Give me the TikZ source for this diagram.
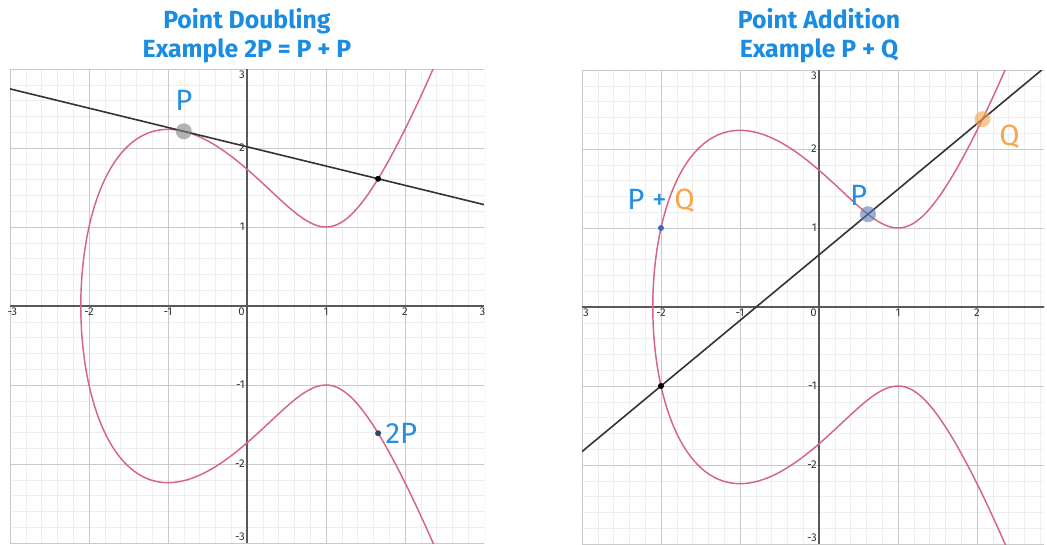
\documentclass[tikz,border=0pt]{standalone}
\usepackage{fontspec}
\setmainfont{Fira Sans}
\usepackage{tikz}
\usepackage{xcolor}
\usetikzlibrary{positioning}

\definecolor{ttlblue}{RGB}{26,140,226}
\definecolor{lblblue}{RGB}{38,142,226}
\definecolor{lblorange}{RGB}{246,164,78}
\definecolor{curvered}{RGB}{214,100,132}
\definecolor{ptsteel}{RGB}{86,124,184}
\definecolor{ptdark}{RGB}{40,72,100}

\tikzset{
  declare function={ecx(\t)=-2.1038+\t*\t;
                    ecy(\t)=\t*sqrt(ecx(\t)*ecx(\t)-2.1038*ecx(\t)+1.426);},
  ttl/.style={align=center, text=ttlblue, inner sep=0pt,
              font=\fontsize{18.6}{22}\selectfont\bfseries},
  ptlbl/.style={inner sep=0pt, text=lblblue, font=\fontsize{22}{24}\selectfont},
  ticklbl/.style={inner sep=1.5pt, text=black!80, font=\fontsize{8.5}{9}\selectfont},
  xlbl/.style={ticklbl, anchor=north},
  ylbl/.style={ticklbl, anchor=east},
  minorgrid/.style={draw=gray!13, line width=0.4pt},
  majorgrid/.style={draw=gray!42, line width=0.6pt},
  axisline/.style={draw=black!65, line width=1pt},
  ecurve/.style={draw=curvered, line width=1.1pt},
  chord/.style={draw=black!80, line width=1.2pt},
  bigdot/.style={circle, inner sep=0pt, minimum size=12pt, fill opacity=0.6},
  smalldot/.style={circle, inner sep=0pt, minimum size=4.5pt}
}

\begin{document}
\begin{tikzpicture}[x=0.75pt,y=0.75pt,yscale=-1,xscale=1]
\path[use as bounding box] (0,0) rectangle (1047,544);

% Text Node
\node[ttl] (ttlDbl) at (247,36) {Point Doubling\\Example 2P = P + P};
% Text Node
\node[ttl] (ttlAdd) at (819,36) {Point Addition\\Example P + Q};

%Left plot: doubling
\begin{scope}[shift={(247,306)},yscale=-1,x=59.25pt,y=59.25pt]
\begin{scope}
\clip (-3,-3) rectangle (3,3);
\draw[minorgrid] (-3,-3) grid[step=0.2] (3,3);
\draw[majorgrid] (-3,-3) grid[step=1] (3,3);
\draw[axisline] (-3,0) -- (3,0);
\draw[axisline] (0,-3) -- (0,3);
%Curve Lines
\draw[ecurve] plot[domain=-2.13:2.13, samples=300, smooth, variable=\t] ({ecx(\t)},{ecy(\t)});
%Straight Lines
\coordinate (tanA) at (-3,2.7485);
\coordinate (tanB) at (3,1.2833);
\draw[chord] (tanA) -- (tanB);
\end{scope}
%Shape: Circle
\node[bigdot, fill=gray] (P) at (-0.8,2.2113) {};
\node[smalldot, fill=black] (R) at (1.6596,1.6105) {};
\node[smalldot, fill=ptdark] (twoP) at (1.6596,-1.6105) {};
% Text Node
\node[ptlbl, above=9pt of P] (Plbl) {P};
% Text Node
\node[ptlbl, right=3pt of twoP] (twoPlbl) {2P};
% Text Node
\node[xlbl] (lxm3) at (-2.97,0) {-3};
\node[xlbl] (lxm2) at (-2,0) {-2};
\node[xlbl] (lxm1) at (-1,0) {-1};
\node[ticklbl, anchor=north east] (lx0) at (0,0) {0};
\node[xlbl] (lx1) at (1,0) {1};
\node[xlbl] (lx2) at (2,0) {2};
\node[xlbl] (lx3) at (2.98,0) {3};
% Text Node
\node[ticklbl, anchor=north east] (ly3) at (0,3) {3};
\node[ylbl] (ly2) at (0,2) {2};
\node[ylbl] (ly1) at (0,1) {1};
\node[ylbl] (lym1) at (0,-1) {-1};
\node[ylbl] (lym2) at (0,-2) {-2};
\node[ticklbl, anchor=south east] (lym3) at (0,-3) {-3};
\end{scope}

%Right plot: addition
\begin{scope}[shift={(819,307)},yscale=-1,x=59.25pt,y=59.25pt]
\begin{scope}
\clip (-3,-3) rectangle (2.85,3);
\draw[minorgrid] (-3,-3) grid[step=0.2] (3,3);
\draw[majorgrid] (-3,-3) grid[step=1] (3,3);
\draw[axisline] (-3,0) -- (3,0);
\draw[axisline] (0,-3) -- (0,3);
%Curve Lines
\draw[ecurve] plot[domain=-2.13:2.13, samples=300, smooth, variable=\t] ({ecx(\t)},{ecy(\t)});
%Straight Lines
\coordinate (secA) at (-3,-1.83);
\coordinate (secB) at (2.819,3);
\draw[chord] (secA) -- (secB);
\end{scope}
%Shape: Circle
\node[bigdot, fill=ptsteel] (Pr) at (0.6197,1.1744) {};
\node[bigdot, fill=lblorange] (Q) at (2.0692,2.3774) {};
\node[smalldot, fill=black] (Rr) at (-2,-1) {};
\node[smalldot, fill=ptsteel!80!blue] (PQ) at (-2,1) {};
% Text Node
\node[ptlbl, anchor=south] (Prlbl) at ([xshift=-7pt]Pr.north) {P};
% Text Node
\node[ptlbl, text=lblorange, below right=0pt and 8pt of Q] (Qlbl) {Q};
% Text Node
\node[ptlbl, above=9pt of PQ] (PQlbl) {P + \textcolor{lblorange}{Q}};
% Text Node
\node[xlbl] (rxm3) at (-2.95,0) {3};
\node[xlbl] (rxm2) at (-2,0) {-2};
\node[xlbl] (rxm1) at (-1,0) {-1};
\node[ticklbl, anchor=north east] (rx0) at (0,0) {0};
\node[xlbl] (rx1) at (1,0) {1};
\node[xlbl] (rx2) at (2,0) {2};
% Text Node
\node[ticklbl, anchor=north east] (ry3) at (0,3) {3};
\node[ylbl] (ry2) at (0,2) {2};
\node[ylbl] (ry1) at (0,1) {1};
\node[ylbl] (rym1) at (0,-1) {-1};
\node[ylbl] (rym2) at (0,-2) {-2};
\node[ticklbl, anchor=south east] (rym3) at (0,-3) {-3};
\end{scope}

\end{tikzpicture}
\end{document}
